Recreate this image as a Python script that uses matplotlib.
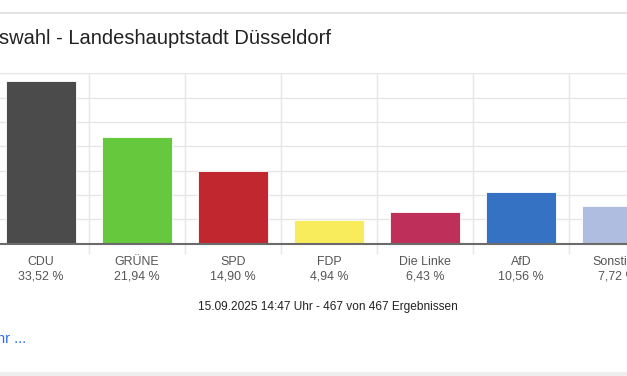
import numpy as np
import matplotlib.pyplot as plt

# Daten
parteien = ['CDU', 'GRÜNE', 'SPD', 'FDP', 'Die Linke', 'AfD', 'Sonstige']
anteile = [33.52, 21.94, 14.90, 4.94, 6.43, 10.56, 7.72]
farben = ['#4a4b4a', '#66c93d', '#c1272f', '#f8ec5d', '#be2f5a', '#3672c4', '#aebde0']
titel = 'swahl - Landeshauptstadt Düsseldorf'
stand = '15.09.2025 14:47 Uhr - 467 von 467 Ergebnissen'

plt.rcParams['font.family'] = ['Liberation Sans', 'DejaVu Sans']

W, H = 627, 376
fig = plt.figure(figsize=(W / 100, H / 100), dpi=100)

# Achse (links abgeschnitten wie im Original)
ax = fig.add_axes([-7 / W, 132.3 / H, 672 / W, 170.4 / H])
x = np.arange(len(parteien))
ax.bar(x, anteile, width=0.72, color=farben, edgecolor='white', linewidth=0.6, zorder=3)

ax.set_xlim(-0.5, len(parteien) - 0.5)
ax.set_ylim(0, 35)
ax.set_yticks(np.arange(0, 36, 5))
ax.grid(axis='y', color='#e6e6e6', linewidth=1, zorder=0)
ax.set_xticks(x)
ax.set_xticks(x[:-1] + 0.5, minor=True)
ax.grid(axis='x', which='minor', color='#e6e6e6', linewidth=1, zorder=0)
ax.tick_params(axis='x', which='major', length=0, labelbottom=False)
ax.tick_params(axis='x', which='minor', length=7.5, color='#e6e6e6', width=1)
ax.tick_params(axis='y', length=0, labelleft=False)
for s in ['top', 'right', 'left']:
    ax.spines[s].set_visible(False)
ax.spines['bottom'].set_color('#6b6b6b')
ax.spines['bottom'].set_linewidth(1.5)
ax.spines['bottom'].set_zorder(4)

# Beschriftungen
trans = ax.get_xaxis_transform()
for i, (p, v) in enumerate(zip(parteien, anteile)):
    wert = f'{v:.2f}'.replace('.', ',') + ' %'
    ax.text(i, -0.072, p + '\n' + wert, transform=trans, ha='center', va='top',
            fontsize=8.9, color='#555555', linespacing=1.3, clip_on=False)

# Titel, Fusszeile, Rahmen
fig.text(-0.002, 1 - 44 / H, titel, fontsize=14.5, color='#222222', va='baseline')
fig.text(328 / W, 1 - 310 / H, stand, fontsize=8.6, color='#222222', ha='center', va='baseline')
fig.text(-0.004, 1 - 343 / H, 'hr ...', fontsize=10.5, color='#2a6df4', va='baseline')
fig.add_artist(plt.Line2D([0, 1], [1 - 12.5 / H, 1 - 12.5 / H], transform=fig.transFigure,
                          color='#e3e3e3', linewidth=1.5))
fig.add_artist(plt.Rectangle((0, 0), 1, 4 / H, transform=fig.transFigure,
                             color='#eeeeee', linewidth=0))

plt.savefig('out.png', dpi=100)
